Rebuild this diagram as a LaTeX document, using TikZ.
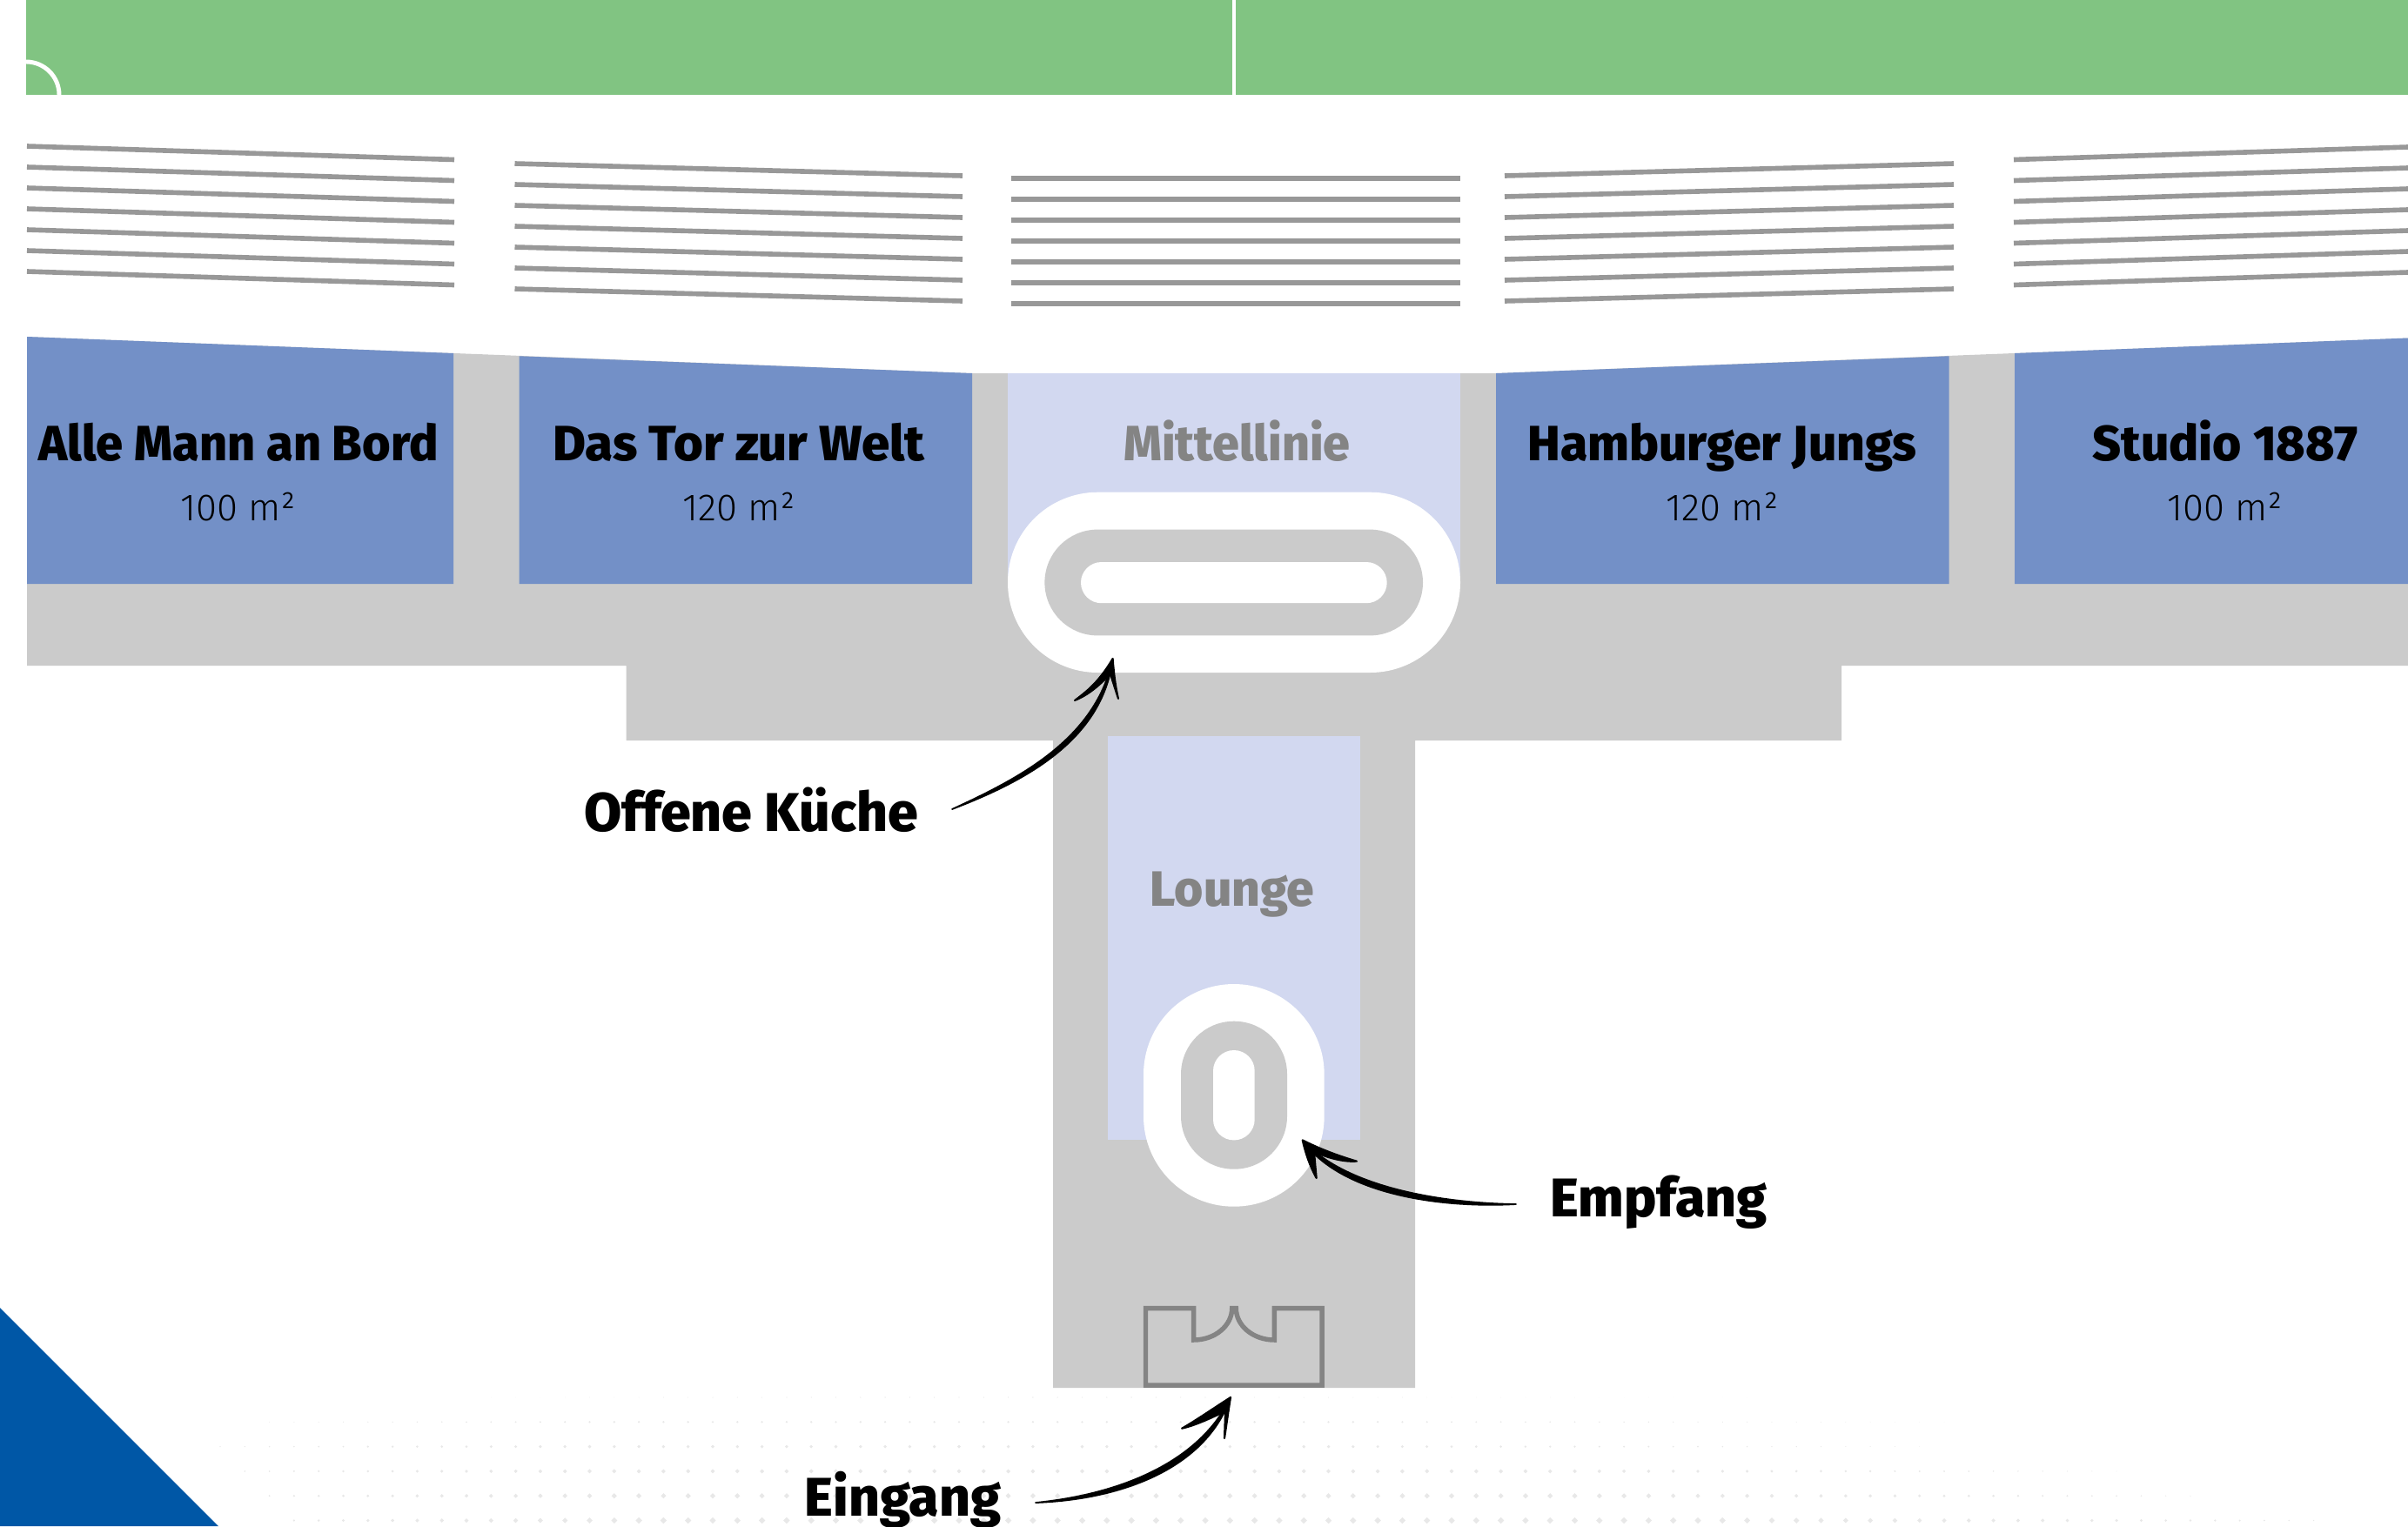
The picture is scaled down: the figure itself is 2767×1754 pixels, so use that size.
\documentclass[tikz,border=0pt]{standalone}
\usepackage{fontspec}
\setmainfont{Fira Sans}
\newfontfamily\lightfont{Fira Sans Light}
\newfontfamily\heavyfont{Fira Sans ExtraBold}
\definecolor{pitch}{HTML}{81C482}
\definecolor{seat}{HTML}{989898}
\definecolor{floorgrey}{HTML}{CBCBCB}
\definecolor{room}{HTML}{7390C7}
\definecolor{roomlight}{HTML}{D2D8F0}
\definecolor{labelgrey}{HTML}{848484}
\definecolor{corner}{HTML}{0057A6}
\definecolor{dotgrey}{HTML}{E8E8E8}
\tikzset{
  seatline/.style={draw=seat,line width=1.6pt},
  roombox/.style={fill=room},
  title/.style={font=\fontsize{16.2}{20}\selectfont\heavyfont,anchor=base,inner sep=0pt},
  area/.style={font=\fontsize{12.4}{16}\selectfont\lightfont,anchor=base,inner sep=0pt},
  callout/.style={font=\fontsize{17.8}{22}\selectfont\heavyfont,anchor=base,inner sep=0pt},
  handshaft/.style={draw=black,fill=black,line width=0.5pt,line join=round},
  handbarb/.style={fill=black,draw=black,line width=0.6pt,line join=round,line cap=round},
}
\begin{document}
\begin{tikzpicture}[x=0.01cm,y=-0.01cm]
\useasboundingbox (0,0) rectangle (2767,1754);
% halftone dots
\def\leftbounds{{563,308,251,280,308,336}}
\def\rightbounds{{2009,2235,2211,2437,2522,2663}}
\foreach \r in {0,...,5}{
  \pgfmathsetmacro{\yy}{1606+28.3*\r}
  \pgfmathsetmacro{\lb}{\leftbounds[\r]}
  \pgfmathsetmacro{\rb}{\rightbounds[\r]}
  \foreach \c in {0,...,85}{
    \pgfmathsetmacro{\xx}{253+28.3*\c}
    \ifdim \xx pt<\lb pt \else \ifdim \xx pt>\rb pt \else
    \pgfmathsetmacro{\xf}{min(1,min(0.35+0.65*(\xx-\lb)/400,0.2+0.8*(\rb-\xx)/700))}
    \pgfmathsetmacro{\sz}{(0.7+0.6*\r)*\xf}
    \fill[dotgrey] (\xx-\sz,\yy) -- (\xx,\yy-\sz) -- (\xx+\sz,\yy) -- (\xx,\yy+\sz) -- cycle;
    \fi\fi
  }
}
% corner triangle
\fill[corner] (0,1503) -- (251,1754) -- (0,1754) -- cycle;
% pitch
\fill[pitch] (30,0) rectangle (2767,109);
\draw[white,line width=1.4pt] (1418,0) -- (1418,109);
\draw[white,line width=1.4pt] (30,71) arc[start angle=-90,end angle=0,radius=38];
% seat rows
\foreach \i in {0,...,6}{
  \pgfmathsetmacro{\d}{24*\i}
  \draw[seatline] (31,168+\d) -- (522,183.5+\d);
  \draw[seatline] (591.5,188+\d) -- (1106,202+\d);
  \draw[seatline] (1162,205+\d) -- (1678,205+\d);
  \draw[seatline] (1729,202+\d) -- (2245,188+\d);
  \draw[seatline] (2314,183.5+\d) -- (2767,169+\d);
}
% grey floor
\fill[floorgrey] (31,387) -- (1117,429) -- (1719,429) -- (2767,388.5) -- (2767,765) -- (2116,765) -- (2116,851) -- (1626,851) -- (1626,1595) -- (1210,1595) -- (1210,851) -- (719.5,851) -- (719.5,765) -- (31,765) -- cycle;
% rooms
\fill[roombox] (31,387) -- (521,406) -- (521,671) -- (31,671) -- cycle;
\fill[roombox] (596.5,409.3) -- (1117,429) -- (1117,671) -- (596.5,671) -- cycle;
\fill[roombox] (1719,429) -- (2239.5,409.3) -- (2239.5,671) -- (1719,671) -- cycle;
\fill[roombox] (2315,406) -- (2767,388.5) -- (2767,671) -- (2315,671) -- cycle;
\fill[roomlight] (1158,429) rectangle (1678,671);
\fill[roomlight] (1273,846) rectangle (1563,1309.5);
% kitchen
\fill[white,rounded corners=103.5*0.01cm] (1158,565.7) rectangle (1678,773);
\fill[floorgrey,rounded corners=60.9*0.01cm] (1200.4,608.6) rectangle (1635,730.4);
\fill[white,rounded corners=23.6*0.01cm] (1242,646) rectangle (1593.7,693.2);
% reception
\fill[white,rounded corners=103.8*0.01cm] (1314,1131) rectangle (1521.7,1386.7);
\fill[floorgrey,rounded corners=60.9*0.01cm] (1357,1173.7) rectangle (1479,1343.7);
\fill[white,rounded corners=23.8*0.01cm] (1394,1207) rectangle (1441.7,1310.4);
% entrance
\draw[labelgrey,line width=1.55pt,line join=miter] (1316.5,1503.5) -- (1371.7,1503.5) -- (1371.7,1540)
  arc[start angle=90,end angle=0,x radius=44,y radius=36.5]
  -- (1420.3,1503.5)
  arc[start angle=180,end angle=90,x radius=44,y radius=36.5]
  -- (1464.3,1503.5) -- (1519.2,1503.5) -- (1519.2,1592) -- (1316.5,1592) -- cycle;
% labels
\node[title] (t1) at (274,529.5) {\scalebox{0.98}[1]{Alle Mann an Bord}};
\node[area] (a1) at (274,598.5) {100 m²};
\node[title] (t2) at (849,529.5) {\scalebox{1.02}[1]{Das Tor zur Welt}};
\node[area] (a2) at (849,598.5) {120 m²};
\node[title,text=labelgrey] (t3) at (1421.5,529.5) {\scalebox{0.975}[1]{Mittellinie}};
\node[title] (t4) at (1979,529.5) {Hamburger Jungs};
\node[area] (a4) at (1979,598.5) {120 m²};
\node[title] (t5) at (2557,529.5) {Studio 1887};
\node[area] (a5) at (2557,598.5) {100 m²};
\node[title,text=labelgrey] (t6) at (1416,1041) {Lounge};
\node[callout] (kueche) at (863,955) {Offene Küche};
\node[callout] (empfang) at (1906,1398) {Empfang};
\node[callout] (eingang) at (1037.5,1742) {Eingang};
% arrows
\coordinate (kTail) at (1094,930); \coordinate (kTip) at (1278.6,757);
\coordinate (eTail) at (1742,1384); \coordinate (eTip) at (1496.7,1310.4);
\coordinate (iTail) at (1190,1727); \coordinate (iTip) at (1414,1606);
\fill[handshaft] (kTail) .. controls (1170,895) and (1259,850) .. (kTip) .. controls (1267,852) and (1175,899) .. cycle;
\fill[handbarb] (kTip) .. controls (1262,785) and (1248,795) .. (1235,805) .. controls (1255,797) and (1268,782) .. (1276,775) -- (1285,803) .. controls (1282,790) and (1280,775) .. cycle;
\fill[handshaft] (eTail) .. controls (1650,1382.5) and (1545,1363) .. (eTip) .. controls (1539,1371) and (1650,1389) .. cycle;
\fill[handbarb] (eTip) .. controls (1520,1322) and (1540,1329) .. (1559,1334.6) .. controls (1540,1336) and (1520,1328) .. (1510,1324) -- (1512.7,1354) .. controls (1505,1340) and (1500,1325) .. cycle;
\fill[handshaft] (iTail) .. controls (1290,1717) and (1379,1679) .. (iTip) .. controls (1386,1687) and (1290,1723.5) .. cycle;
\fill[handbarb] (iTip) .. controls (1395,1618) and (1375,1632) .. (1358,1641.7) .. controls (1375,1638) and (1395,1628) .. (1408,1622) -- (1407,1653) .. controls (1409,1640) and (1411,1625) .. cycle;
\end{tikzpicture}
\end{document}
